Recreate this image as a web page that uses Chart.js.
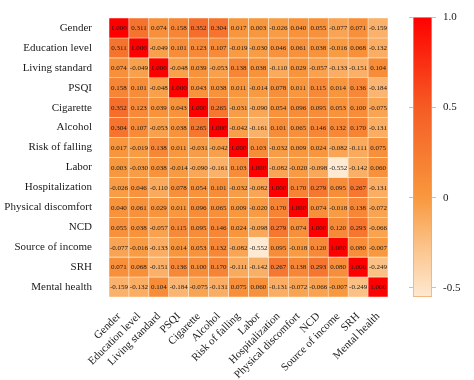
<!DOCTYPE html>
<html>
<head>
<meta charset="utf-8">
<script src="https://cdn.jsdelivr.net/npm/chart.js@4/dist/chart.umd.min.js"></script>
<style>
  html, body { margin: 0; padding: 0; background: #fff; }
  #wrap { position: relative; width: 474px; height: 380px; }
  #main { position: absolute; left: 0; top: 0; }
  #cbar { position: absolute; left: 400px; top: 0; }
</style>
</head>
<body>
<div id="wrap">
  <canvas id="main" width="474" height="380"></canvas>
  <canvas id="cbar" width="74" height="380"></canvas>
</div>
<script>
// ---- data ----
const variables = ['Gender', 'Education level', 'Living standard', 'PSQI', 'Cigarette', 'Alcohol',
  'Risk of falling', 'Labor', 'Hospitalization', 'Physical discomfort', 'NCD', 'Source of income',
  'SRH', 'Mental health'];

const gender        = [1.000, 0.311, 0.074, 0.158, 0.352, 0.304, 0.017, 0.003, -0.026, 0.040, 0.055, -0.077, 0.071, -0.159];
const education     = [0.311, 1.000, -0.049, 0.101, 0.123, 0.107, -0.019, -0.030, 0.046, 0.061, 0.038, -0.016, 0.068, -0.132];
const living        = [0.074, -0.049, 1.000, -0.048, 0.039, -0.053, 0.138, 0.038, -0.110, 0.029, -0.057, -0.133, -0.151, 0.104];
const psqi          = [0.158, 0.101, -0.048, 1.000, 0.043, 0.038, 0.011, -0.014, 0.078, 0.011, 0.115, 0.014, 0.136, -0.184];
const cigarette     = [0.352, 0.123, 0.039, 0.043, 1.000, 0.265, -0.031, -0.090, 0.054, 0.096, 0.095, 0.053, 0.100, -0.075];
const alcohol       = [0.304, 0.107, -0.053, 0.038, 0.265, 1.000, -0.042, -0.161, 0.101, 0.065, 0.146, 0.132, 0.170, -0.131];
const riskFalling   = [0.017, -0.019, 0.138, 0.011, -0.031, -0.042, 1.000, 0.103, -0.032, 0.009, 0.024, -0.082, -0.111, 0.075];
const labor         = [0.003, -0.030, 0.038, -0.014, -0.090, -0.161, 0.103, 1.000, -0.082, -0.020, -0.098, -0.552, -0.142, 0.060];
const hospital      = [-0.026, 0.046, -0.110, 0.078, 0.054, 0.101, -0.032, -0.082, 1.000, 0.170, 0.279, 0.095, 0.267, -0.131];
const physical      = [0.040, 0.061, 0.029, 0.011, 0.096, 0.065, 0.009, -0.020, 0.170, 1.000, 0.074, -0.018, 0.138, -0.072];
const ncd           = [0.055, 0.038, -0.057, 0.115, 0.095, 0.146, 0.024, -0.098, 0.279, 0.074, 1.000, 0.120, 0.293, -0.066];
const income        = [-0.077, -0.016, -0.133, 0.014, 0.053, 0.132, -0.082, -0.552, 0.095, -0.018, 0.120, 1.000, 0.080, -0.007];
const srh           = [0.071, 0.068, -0.151, 0.136, 0.100, 0.170, -0.111, -0.142, 0.267, 0.138, 0.293, 0.080, 1.000, -0.249];
const mental        = [-0.159, -0.132, 0.104, -0.184, -0.075, -0.131, 0.075, 0.060, -0.131, -0.072, -0.066, -0.007, -0.249, 1.000];

const matrix = [gender, education, living, psqi, cigarette, alcohol, riskFalling, labor,
  hospital, physical, ncd, income, srh, mental];

const cbTicks = [-0.5, 0, 0.5, 1.0];
const cbMin = -0.55, cbMax = 1.0;

// ---- colour scale ----
const stops = [
  [-0.55, [254, 233, 210]],
  [-0.25, [251, 192, 132]],
  [0.0,   [248, 152, 62]],
  [0.5,   [245, 92, 36]],
  [1.0,   [255, 0, 0]]
];
function colorFor(v) {
  if (v <= stops[0][0]) return 'rgb(' + stops[0][1].join(',') + ')';
  for (let i = 1; i < stops.length; i++) {
    if (v <= stops[i][0]) {
      const [a, ca] = stops[i - 1], [b, cb] = stops[i];
      const t = (v - a) / (b - a);
      const c = ca.map((x, k) => Math.round(x + (cb[k] - x) * t));
      return 'rgb(' + c.join(',') + ')';
    }
  }
  return 'rgb(' + stops[stops.length - 1][1].join(',') + ')';
}

const serif = "'Liberation Serif', 'Times New Roman', serif";

const valueLabels = {
  id: 'valueLabels',
  afterDatasetsDraw(chart) {
    const ctx = chart.ctx;
    ctx.save();
    ctx.font = '7px ' + serif;
    ctx.fillStyle = '#1a1a1a';
    ctx.textAlign = 'center';
    ctx.textBaseline = 'middle';
    chart.data.datasets.forEach((ds, r) => {
      const meta = chart.getDatasetMeta(r);
      meta.data.forEach((el, c) => {
        const p = el.getCenterPoint();
        ctx.fillText(matrix[r][c].toFixed(3), p.x, p.y + 0.5);
      });
    });
    ctx.restore();
  }
};

new Chart(document.getElementById('main'), {
  type: 'bar',
  data: {
    labels: variables,
    datasets: matrix.map((row, r) => ({
      label: variables[r],
      data: row.map(() => 1),
      backgroundColor: row.map(colorFor),
      borderColor: 'rgba(255,238,215,0.95)',
      borderWidth: 0.6,
      borderSkipped: false,
      categoryPercentage: 1,
      barPercentage: 1
    }))
  },
  options: {
    responsive: false,
    animation: false,
    layout: { padding: { top: 18, right: 86, left: 0, bottom: 0 } },
    plugins: { legend: { display: false }, tooltip: { enabled: false } },
    scales: {
      x: {
        stacked: true,
        grid: { display: false },
        border: { display: false },
        ticks: {
          autoSkip: false, maxRotation: 45, minRotation: 45, padding: 5,
          color: '#1a1a1a', font: { family: serif, size: 11 }
        },
        afterFit(scale) { scale.height = 83; }
      },
      y: {
        stacked: true,
        min: 0, max: variables.length, reverse: true,
        grid: { display: false },
        border: { display: false },
        afterBuildTicks(scale) { scale.ticks = variables.map((_, i) => ({ value: i + 0.5 })); },
        ticks: {
          padding: 9, color: '#1a1a1a', font: { family: serif, size: 11 },
          callback: (v, i) => variables[i]
        },
        afterFit(scale) { scale.width = 109; }
      }
    }
  },
  plugins: [valueLabels]
});

// ---- colour bar ----
new Chart(document.getElementById('cbar'), {
  type: 'bar',
  data: {
    labels: [''],
    datasets: [{
      data: [[cbMin, cbMax]],
      backgroundColor(context) {
        const chart = context.chart;
        const ys = chart.scales.y;
        if (!chart.chartArea || !ys) return 'rgba(0,0,0,0)';
        const g = chart.ctx.createLinearGradient(0, ys.getPixelForValue(cbMax), 0, ys.getPixelForValue(cbMin));
        const n = 30;
        for (let i = 0; i <= n; i++) {
          const v = cbMax - (cbMax - cbMin) * i / n;
          g.addColorStop(i / n, colorFor(v));
        }
        return g;
      },
      borderColor: '#f2a565',
      borderWidth: 1,
      borderSkipped: false,
      categoryPercentage: 1,
      barPercentage: 1
    }]
  },
  options: {
    responsive: false,
    animation: false,
    layout: { padding: { top: 17, bottom: 83, left: 0, right: 0 } },
    plugins: { legend: { display: false }, tooltip: { enabled: false } },
    scales: {
      x: { display: false },
      y: {
        position: 'right', min: cbMin, max: cbMax,
        afterBuildTicks(scale) { scale.ticks = cbTicks.map(v => ({ value: v })); },
        grid: { drawOnChartArea: false, drawTicks: true, tickLength: 4, color: '#e8b890' },
        border: { display: false },
        ticks: {
          padding: 7, color: '#1a1a1a', font: { family: serif, size: 11 },
          callback: v => (v === 0 ? '0' : v.toFixed(1))
        },
        afterFit(scale) { scale.width = 42; }
      },
      y2: {
        position: 'left', min: cbMin, max: cbMax,
        afterBuildTicks(scale) { scale.ticks = cbTicks.map(v => ({ value: v })); },
        grid: { drawOnChartArea: false, drawTicks: true, tickLength: 4, color: '#e8b890' },
        border: { display: false },
        ticks: { display: false },
        afterFit(scale) { scale.width = 13; }
      }
    }
  }
});
</script>
</body>
</html>
